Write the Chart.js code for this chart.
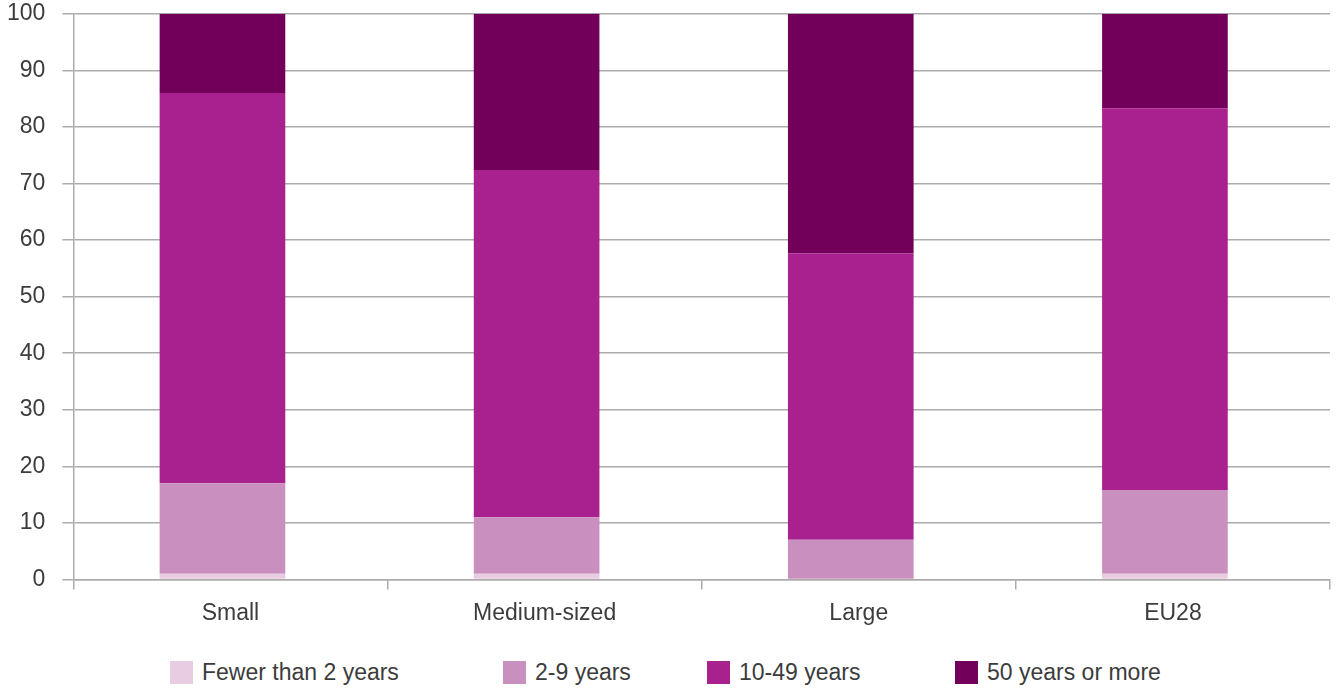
<!DOCTYPE html>
<html>
<head>
<meta charset="utf-8">
<script src="https://cdn.jsdelivr.net/npm/chart.js@4"></script>
<style>
  html, body { margin: 0; padding: 0; background: #fff; }
  #wrap { width: 1336px; height: 688px; position: relative; overflow: hidden; }
  #chart-box { position: absolute; left: -17px; top: -17px; width: 1353px; height: 654px; }
  #legend { position: absolute; left: 0; top: 661px; width: 1336px; height: 24px; margin: 0; padding: 0; list-style: none; }
  #legend li { position: absolute; top: 0; display: flex; align-items: center; height: 23px;
    font: 23px "Liberation Sans", Arial, sans-serif; color: #3c3c3c; white-space: nowrap; }
  #legend li span.box { display: inline-block; width: 23px; height: 23px; margin-right: 9px; }
</style>
</head>
<body>
<div id="wrap">
  <div id="chart-box"><canvas id="chart"></canvas></div>
  <ul id="legend"></ul>
</div>
<script>
const categories = ['Small', 'Medium-sized', 'Large', 'EU28'];
const seriesNames = ['Fewer than 2 years', '2-9 years', '10-49 years', '50 years or more'];
const fewerThan2 = [1, 1, 0, 1];
const years2to9 = [16, 10, 7, 14.8];
const years10to49 = [69, 61.4, 50.6, 67.5];
const years50plus = [14, 27.6, 42.4, 16.7];
const seriesColors = ['#e8cce2', '#c98fbe', '#a8218e', '#72005a'];

const yTicks = [0, 10, 20, 30, 40, 50, 60, 70, 80, 90, 100];

// left edge of each legend entry
const legendLeft = [170, 503, 707, 955];

const fontFamily = '"Liberation Sans", Arial, sans-serif';
const textColor = '#3c3c3c';
const gridColor = '#acacac';

const values = [fewerThan2, years2to9, years10to49, years50plus];

// legend as html list under the canvas
const htmlLegend = {
  id: 'htmlLegend',
  afterUpdate(chart) {
    const ul = document.getElementById('legend');
    ul.innerHTML = '';
    chart.data.datasets.forEach((ds, i) => {
      const li = document.createElement('li');
      li.style.left = legendLeft[i] + 'px';
      const box = document.createElement('span');
      box.className = 'box';
      box.style.background = ds.backgroundColor;
      li.appendChild(box);
      li.appendChild(document.createTextNode(ds.label));
      ul.appendChild(li);
    });
  }
};

// the original sits its bars a little left of the category centre
const barNudge = {
  id: 'barNudge',
  beforeDatasetsDraw(chart) {
    chart.ctx.save();
    chart.ctx.translate(-8, 0);
  },
  afterDatasetsDraw(chart) {
    chart.ctx.restore();
  }
};

const ctx = document.getElementById('chart').getContext('2d');
new Chart(ctx, {
  type: 'bar',
  data: {
    labels: categories,
    datasets: seriesNames.map((name, i) => ({
      label: name,
      data: values[i],
      backgroundColor: seriesColors[i],
      borderWidth: 0,
      barPercentage: 0.4,
      categoryPercentage: 1
    }))
  },
  plugins: [htmlLegend, barNudge],
  options: {
    responsive: true,
    maintainAspectRatio: false,
    animation: false,
    layout: { autoPadding: false, padding: { top: 13, right: 6, left: 7, bottom: 0 } },
    plugins: {
      tooltip: { enabled: false },
      legend: { display: false }
    },
    scales: {
      x: {
        stacked: true,
        grid: {
          offset: true,
          drawOnChartArea: false,
          drawTicks: true,
          tickLength: 10,
          color: gridColor,
          lineWidth: 1.5
        },
        border: { color: gridColor, width: 1.5 },
        ticks: {
          color: textColor,
          padding: 10,
          font: { family: fontFamily, size: 23 }
        }
      },
      y: {
        stacked: true,
        min: 0,
        max: 100,
        afterBuildTicks: axis => { axis.ticks = yTicks.map(v => ({ value: v })); },
        grid: {
          color: gridColor,
          lineWidth: 1.5,
          tickLength: 11
        },
        border: { color: gridColor, width: 1.5 },
        ticks: {
          color: textColor,
          padding: 17,
          font: { family: fontFamily, size: 23 }
        }
      }
    }
  }
});
</script>
</body>
</html>
